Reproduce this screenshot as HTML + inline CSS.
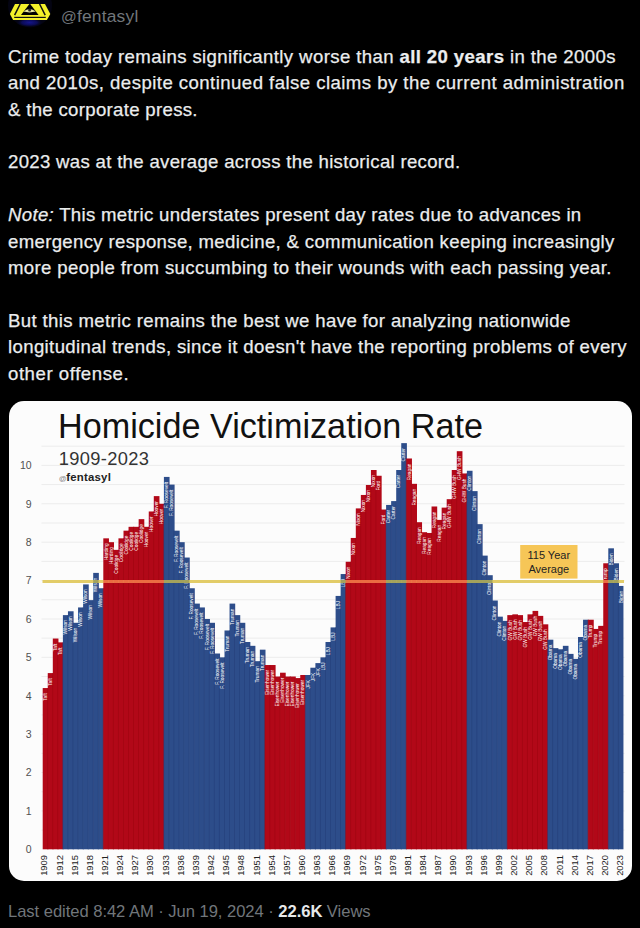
<!DOCTYPE html>
<html><head><meta charset="utf-8"><title>@fentasyl</title>
<style>
*{margin:0;padding:0;box-sizing:border-box}
html,body{width:640px;height:928px;background:#000;overflow:hidden}
body{position:relative;font-family:"Liberation Sans",Arial,sans-serif;color:#e7e9ea}
#av{position:absolute;left:0;top:0;width:60px;height:30px}
#user{position:absolute;left:61px;top:5.6px;font-size:17.4px;line-height:20px;color:#71767b;white-space:nowrap;letter-spacing:0.2px}
#txt{position:absolute;left:8px;top:43.9px;font-size:18.6px;line-height:26.4px;white-space:nowrap;-webkit-text-stroke:0.25px #e7e9ea;color:#eceeef}
#txt b{font-weight:700}
.ln{height:26.4px}
#chart{position:absolute;left:8.5px;top:401px;width:623px;height:479.6px;border-radius:15px;background:#fcfcfc;overflow:hidden}
#chart svg{position:absolute;left:0;top:0}
.yl{font-size:10.5px;fill:#505050;font-family:"Liberation Sans",Arial,sans-serif}
.xl{font-size:9.4px;fill:#222;font-family:"Liberation Sans",Arial,sans-serif}
.bl{font-size:4.8px;fill:#fff;font-family:"Liberation Sans",Arial,sans-serif}
.ab{font-size:11px;fill:#222;font-family:"Liberation Sans",Arial,sans-serif}
.t1{font-size:34.2px;fill:#111;font-family:"Liberation Sans",Arial,sans-serif}
.t2{font-size:18.3px;fill:#333;font-family:"Liberation Sans",Arial,sans-serif}
.t3{font-size:11.4px;font-weight:700;fill:#222;font-family:"Liberation Sans",Arial,sans-serif}
#foot{position:absolute;left:8px;top:900.5px;font-size:16.6px;line-height:22px;color:#71767b;white-space:nowrap;letter-spacing:-0.05px}
#foot b{color:#e7e9ea;font-weight:700}
</style></head><body>
<svg id="av" viewBox="0 0 60 30" width="60" height="30">
<defs><radialGradient id="ag" gradientUnits="userSpaceOnUse" cx="29.5" cy="22.5" r="13" gradientTransform="translate(29.5 22.5) scale(1 0.35) translate(-29.5 -22.5)"><stop offset="0" stop-color="#15158a"/><stop offset="0.6" stop-color="#0b0b55"/><stop offset="1" stop-color="#06061e" stop-opacity="0"/></radialGradient></defs>
<circle cx="30" cy="5.5" r="22" fill="#040412"/>
<rect x="8" y="14" width="44" height="16" fill="url(#ag)"/>
<polygon points="15,4 45,4 50.3,13.9 46.9,19.9 13.1,19.9 9.9,13.9" fill="#f4f02a"/>
<polygon points="29.8,3.6 38.6,15 21,15" fill="#000"/>
<path d="M20.2,4 L14.6,15.2 M39.6,4 L45.2,15.2" stroke="#111" stroke-width="1.5" fill="none"/>
<path d="M14.2,17.4 H45.8" stroke="#111" stroke-width="1.2"/>
<path d="M23.4,11.6 Q29.6,6.2 35.8,11.6 Q29.6,13.2 23.4,11.6Z" fill="#e8e6a0"/>
<circle cx="29.6" cy="10" r="1.5" fill="#222"/>
</svg>
<div id="user"><span style="font-size:15.5px">@</span>fentasyl</div>
<div id="txt">
<div class="ln" id="l0" style="letter-spacing:0.386px">Crime today remains significantly worse than <b>all 20 years</b> in the 2000s</div>
<div class="ln" id="l1" style="letter-spacing:0.446px">and 2010s, despite continued false claims by the current administration</div>
<div class="ln" id="l2" style="letter-spacing:0.314px">&amp; the corporate press.</div>
<div class="ln">&nbsp;</div>
<div class="ln" id="l4" style="letter-spacing:0.308px">2023 was at the average across the historical record.</div>
<div class="ln">&nbsp;</div>
<div class="ln" id="l6" style="letter-spacing:0.317px"><i>Note:</i> This metric understates present day rates due to advances in</div>
<div class="ln" id="l7" style="letter-spacing:0.329px">emergency response, medicine, &amp; communication keeping increasingly</div>
<div class="ln" id="l8" style="letter-spacing:0.358px">more people from succumbing to their wounds with each passing year.</div>
<div class="ln">&nbsp;</div>
<div class="ln" id="l10" style="letter-spacing:0.356px">But this metric remains the best we have for analyzing nationwide</div>
<div class="ln" id="l11" style="letter-spacing:0.367px">longitudinal trends, since it doesn't have the reporting problems of every</div>
<div class="ln" id="l12" style="letter-spacing:0.554px">other offense.</div>
</div>
<div id="chart"><svg width="623" height="479.6" viewBox="0 0 623 479.6">
<line x1="32.50" x2="615.50" y1="429.10" y2="429.10" stroke="#ececec" stroke-width="1"/>
<line x1="32.50" x2="615.50" y1="409.91" y2="409.91" stroke="#ececec" stroke-width="1"/>
<line x1="32.50" x2="615.50" y1="390.71" y2="390.71" stroke="#ececec" stroke-width="1"/>
<line x1="32.50" x2="615.50" y1="371.52" y2="371.52" stroke="#ececec" stroke-width="1"/>
<line x1="32.50" x2="615.50" y1="352.32" y2="352.32" stroke="#ececec" stroke-width="1"/>
<line x1="32.50" x2="615.50" y1="333.13" y2="333.13" stroke="#ececec" stroke-width="1"/>
<line x1="32.50" x2="615.50" y1="313.93" y2="313.93" stroke="#ececec" stroke-width="1"/>
<line x1="32.50" x2="615.50" y1="294.74" y2="294.74" stroke="#ececec" stroke-width="1"/>
<line x1="32.50" x2="615.50" y1="275.54" y2="275.54" stroke="#ececec" stroke-width="1"/>
<line x1="32.50" x2="615.50" y1="256.35" y2="256.35" stroke="#ececec" stroke-width="1"/>
<line x1="32.50" x2="615.50" y1="237.15" y2="237.15" stroke="#ececec" stroke-width="1"/>
<line x1="32.50" x2="615.50" y1="217.96" y2="217.96" stroke="#ececec" stroke-width="1"/>
<line x1="32.50" x2="615.50" y1="198.76" y2="198.76" stroke="#ececec" stroke-width="1"/>
<line x1="32.50" x2="615.50" y1="179.57" y2="179.57" stroke="#ececec" stroke-width="1"/>
<line x1="32.50" x2="615.50" y1="160.38" y2="160.38" stroke="#ececec" stroke-width="1"/>
<line x1="32.50" x2="615.50" y1="141.18" y2="141.18" stroke="#ececec" stroke-width="1"/>
<line x1="32.50" x2="615.50" y1="121.98" y2="121.98" stroke="#ececec" stroke-width="1"/>
<line x1="32.50" x2="615.50" y1="102.79" y2="102.79" stroke="#ececec" stroke-width="1"/>
<line x1="32.50" x2="615.50" y1="83.59" y2="83.59" stroke="#ececec" stroke-width="1"/>
<line x1="32.50" x2="615.50" y1="64.40" y2="64.40" stroke="#ececec" stroke-width="1"/>
<line x1="32.50" x2="615.50" y1="45.20" y2="45.20" stroke="#ececec" stroke-width="1"/>
<text x="22.70" y="452.10" text-anchor="end" class="yl">0</text>
<text x="22.70" y="413.71" text-anchor="end" class="yl">1</text>
<text x="22.70" y="375.32" text-anchor="end" class="yl">2</text>
<text x="22.70" y="336.93" text-anchor="end" class="yl">3</text>
<text x="22.70" y="298.54" text-anchor="end" class="yl">4</text>
<text x="22.70" y="260.15" text-anchor="end" class="yl">5</text>
<text x="22.70" y="221.76" text-anchor="end" class="yl">6</text>
<text x="22.70" y="183.37" text-anchor="end" class="yl">7</text>
<text x="22.70" y="144.98" text-anchor="end" class="yl">8</text>
<text x="22.70" y="106.59" text-anchor="end" class="yl">9</text>
<text x="22.70" y="68.20" text-anchor="end" class="yl">10</text>
<rect x="33.70" y="287.06" width="5.65" height="161.24" fill="#b20818"/>
<rect x="38.75" y="272.09" width="5.65" height="176.21" fill="#b20818"/>
<rect x="43.80" y="237.54" width="5.65" height="210.76" fill="#b20818"/>
<rect x="48.85" y="241.38" width="5.65" height="206.92" fill="#b20818"/>
<rect x="53.90" y="214.12" width="5.65" height="234.18" fill="#2d4d8a"/>
<rect x="58.95" y="210.28" width="5.65" height="238.02" fill="#2d4d8a"/>
<rect x="64.00" y="221.80" width="5.65" height="226.50" fill="#2d4d8a"/>
<rect x="69.05" y="206.44" width="5.65" height="241.86" fill="#2d4d8a"/>
<rect x="74.10" y="183.41" width="5.65" height="264.89" fill="#2d4d8a"/>
<rect x="79.15" y="199.15" width="5.65" height="249.15" fill="#2d4d8a"/>
<rect x="84.20" y="171.89" width="5.65" height="276.41" fill="#2d4d8a"/>
<rect x="89.25" y="187.25" width="5.65" height="261.05" fill="#2d4d8a"/>
<rect x="94.30" y="137.34" width="5.65" height="310.96" fill="#b20818"/>
<rect x="99.35" y="141.18" width="5.65" height="307.12" fill="#b20818"/>
<rect x="104.40" y="148.86" width="5.65" height="299.44" fill="#b20818"/>
<rect x="109.45" y="137.34" width="5.65" height="310.96" fill="#b20818"/>
<rect x="114.50" y="129.66" width="5.65" height="318.64" fill="#b20818"/>
<rect x="119.55" y="125.82" width="5.65" height="322.48" fill="#b20818"/>
<rect x="124.60" y="125.82" width="5.65" height="322.48" fill="#b20818"/>
<rect x="129.65" y="118.15" width="5.65" height="330.15" fill="#b20818"/>
<rect x="134.70" y="125.82" width="5.65" height="322.48" fill="#b20818"/>
<rect x="139.75" y="110.47" width="5.65" height="337.83" fill="#b20818"/>
<rect x="144.80" y="95.11" width="5.65" height="353.19" fill="#b20818"/>
<rect x="149.85" y="102.79" width="5.65" height="345.51" fill="#b20818"/>
<rect x="154.90" y="75.92" width="5.65" height="372.38" fill="#2d4d8a"/>
<rect x="159.95" y="83.59" width="5.65" height="364.70" fill="#2d4d8a"/>
<rect x="165.00" y="129.66" width="5.65" height="318.64" fill="#2d4d8a"/>
<rect x="170.05" y="141.18" width="5.65" height="307.12" fill="#2d4d8a"/>
<rect x="175.10" y="156.54" width="5.65" height="291.76" fill="#2d4d8a"/>
<rect x="180.15" y="187.25" width="5.65" height="261.05" fill="#2d4d8a"/>
<rect x="185.20" y="202.60" width="5.65" height="245.70" fill="#2d4d8a"/>
<rect x="190.25" y="206.44" width="5.65" height="241.86" fill="#2d4d8a"/>
<rect x="195.30" y="217.96" width="5.65" height="230.34" fill="#2d4d8a"/>
<rect x="200.35" y="221.80" width="5.65" height="226.50" fill="#2d4d8a"/>
<rect x="205.40" y="252.51" width="5.65" height="195.79" fill="#2d4d8a"/>
<rect x="210.45" y="256.35" width="5.65" height="191.95" fill="#2d4d8a"/>
<rect x="215.50" y="229.48" width="5.65" height="218.82" fill="#2d4d8a"/>
<rect x="220.55" y="202.60" width="5.65" height="245.70" fill="#2d4d8a"/>
<rect x="225.60" y="214.12" width="5.65" height="234.18" fill="#2d4d8a"/>
<rect x="230.65" y="221.80" width="5.65" height="226.50" fill="#2d4d8a"/>
<rect x="235.70" y="240.99" width="5.65" height="207.31" fill="#2d4d8a"/>
<rect x="240.75" y="244.83" width="5.65" height="203.47" fill="#2d4d8a"/>
<rect x="245.80" y="260.19" width="5.65" height="188.11" fill="#2d4d8a"/>
<rect x="250.85" y="248.67" width="5.65" height="199.63" fill="#2d4d8a"/>
<rect x="255.90" y="264.03" width="5.65" height="184.27" fill="#b20818"/>
<rect x="260.95" y="264.03" width="5.65" height="184.27" fill="#b20818"/>
<rect x="266.00" y="275.54" width="5.65" height="172.75" fill="#b20818"/>
<rect x="271.05" y="271.71" width="5.65" height="176.59" fill="#b20818"/>
<rect x="276.10" y="275.54" width="5.65" height="172.75" fill="#b20818"/>
<rect x="281.15" y="275.54" width="5.65" height="172.75" fill="#b20818"/>
<rect x="286.20" y="277.08" width="5.65" height="171.22" fill="#b20818"/>
<rect x="291.25" y="274.01" width="5.65" height="174.29" fill="#b20818"/>
<rect x="296.30" y="274.01" width="5.65" height="174.29" fill="#2d4d8a"/>
<rect x="301.35" y="266.72" width="5.65" height="181.58" fill="#2d4d8a"/>
<rect x="306.40" y="262.11" width="5.65" height="186.19" fill="#2d4d8a"/>
<rect x="311.45" y="256.35" width="5.65" height="191.95" fill="#2d4d8a"/>
<rect x="316.50" y="240.99" width="5.65" height="207.31" fill="#2d4d8a"/>
<rect x="321.55" y="226.41" width="5.65" height="221.89" fill="#2d4d8a"/>
<rect x="326.60" y="194.93" width="5.65" height="253.37" fill="#2d4d8a"/>
<rect x="331.65" y="173.04" width="5.65" height="275.26" fill="#2d4d8a"/>
<rect x="336.70" y="160.76" width="5.65" height="287.54" fill="#b20818"/>
<rect x="341.75" y="136.96" width="5.65" height="311.34" fill="#b20818"/>
<rect x="346.80" y="107.40" width="5.65" height="340.90" fill="#b20818"/>
<rect x="351.85" y="93.96" width="5.65" height="354.34" fill="#b20818"/>
<rect x="356.90" y="83.98" width="5.65" height="364.32" fill="#b20818"/>
<rect x="361.95" y="69.01" width="5.65" height="379.29" fill="#b20818"/>
<rect x="367.00" y="74.77" width="5.65" height="373.53" fill="#b20818"/>
<rect x="372.05" y="108.55" width="5.65" height="339.75" fill="#b20818"/>
<rect x="377.10" y="103.94" width="5.65" height="344.36" fill="#2d4d8a"/>
<rect x="382.15" y="100.10" width="5.65" height="348.20" fill="#2d4d8a"/>
<rect x="387.20" y="69.01" width="5.65" height="379.29" fill="#2d4d8a"/>
<rect x="392.25" y="42.13" width="5.65" height="406.17" fill="#2d4d8a"/>
<rect x="397.30" y="57.49" width="5.65" height="390.81" fill="#b20818"/>
<rect x="402.35" y="82.83" width="5.65" height="365.47" fill="#b20818"/>
<rect x="407.40" y="121.22" width="5.65" height="327.08" fill="#b20818"/>
<rect x="412.45" y="131.20" width="5.65" height="317.10" fill="#b20818"/>
<rect x="417.50" y="131.97" width="5.65" height="316.33" fill="#b20818"/>
<rect x="422.55" y="105.48" width="5.65" height="342.82" fill="#b20818"/>
<rect x="427.60" y="118.91" width="5.65" height="329.39" fill="#b20818"/>
<rect x="432.65" y="106.63" width="5.65" height="341.67" fill="#b20818"/>
<rect x="437.70" y="98.18" width="5.65" height="350.12" fill="#b20818"/>
<rect x="442.75" y="69.01" width="5.65" height="379.29" fill="#b20818"/>
<rect x="447.80" y="50.20" width="5.65" height="398.10" fill="#b20818"/>
<rect x="452.85" y="72.46" width="5.65" height="375.84" fill="#b20818"/>
<rect x="457.90" y="69.77" width="5.65" height="378.53" fill="#2d4d8a"/>
<rect x="462.95" y="90.12" width="5.65" height="358.18" fill="#2d4d8a"/>
<rect x="468.00" y="123.14" width="5.65" height="325.16" fill="#2d4d8a"/>
<rect x="473.05" y="154.62" width="5.65" height="293.68" fill="#2d4d8a"/>
<rect x="478.10" y="174.20" width="5.65" height="274.10" fill="#2d4d8a"/>
<rect x="483.15" y="199.53" width="5.65" height="248.77" fill="#2d4d8a"/>
<rect x="488.20" y="215.66" width="5.65" height="232.64" fill="#2d4d8a"/>
<rect x="493.25" y="219.88" width="5.65" height="228.42" fill="#2d4d8a"/>
<rect x="498.30" y="214.12" width="5.65" height="234.18" fill="#b20818"/>
<rect x="503.35" y="213.35" width="5.65" height="234.95" fill="#b20818"/>
<rect x="508.40" y="214.12" width="5.65" height="234.18" fill="#b20818"/>
<rect x="513.45" y="221.03" width="5.65" height="227.27" fill="#b20818"/>
<rect x="518.50" y="213.35" width="5.65" height="234.95" fill="#b20818"/>
<rect x="523.55" y="209.90" width="5.65" height="238.40" fill="#b20818"/>
<rect x="528.60" y="214.89" width="5.65" height="233.41" fill="#b20818"/>
<rect x="533.65" y="223.33" width="5.65" height="224.97" fill="#b20818"/>
<rect x="538.70" y="238.69" width="5.65" height="209.61" fill="#2d4d8a"/>
<rect x="543.75" y="247.14" width="5.65" height="201.16" fill="#2d4d8a"/>
<rect x="548.80" y="248.29" width="5.65" height="200.01" fill="#2d4d8a"/>
<rect x="553.85" y="244.83" width="5.65" height="203.47" fill="#2d4d8a"/>
<rect x="558.90" y="252.89" width="5.65" height="195.41" fill="#2d4d8a"/>
<rect x="563.95" y="257.89" width="5.65" height="190.41" fill="#2d4d8a"/>
<rect x="569.00" y="236.00" width="5.65" height="212.30" fill="#2d4d8a"/>
<rect x="574.05" y="218.73" width="5.65" height="229.57" fill="#2d4d8a"/>
<rect x="579.10" y="218.73" width="5.65" height="229.57" fill="#b20818"/>
<rect x="584.15" y="227.94" width="5.65" height="220.36" fill="#b20818"/>
<rect x="589.20" y="224.87" width="5.65" height="223.43" fill="#b20818"/>
<rect x="594.25" y="162.29" width="5.65" height="286.01" fill="#b20818"/>
<rect x="599.30" y="147.32" width="5.65" height="300.98" fill="#2d4d8a"/>
<rect x="604.35" y="162.29" width="5.65" height="286.01" fill="#2d4d8a"/>
<rect x="609.40" y="184.94" width="5.05" height="263.36" fill="#2d4d8a"/>
<rect x="38.25" y="287.06" width="0.8" height="161.24" fill="#98060f" opacity="0.55"/>
<rect x="43.30" y="272.09" width="0.8" height="176.21" fill="#98060f" opacity="0.55"/>
<rect x="48.35" y="241.38" width="0.8" height="206.92" fill="#98060f" opacity="0.55"/>
<rect x="53.40" y="241.38" width="0.8" height="206.92" fill="#223d74" opacity="0.55"/>
<rect x="58.45" y="214.12" width="0.8" height="234.18" fill="#223d74" opacity="0.55"/>
<rect x="63.50" y="221.80" width="0.8" height="226.50" fill="#223d74" opacity="0.55"/>
<rect x="68.55" y="221.80" width="0.8" height="226.50" fill="#223d74" opacity="0.55"/>
<rect x="73.60" y="206.44" width="0.8" height="241.86" fill="#223d74" opacity="0.55"/>
<rect x="78.65" y="199.15" width="0.8" height="249.15" fill="#223d74" opacity="0.55"/>
<rect x="83.70" y="199.15" width="0.8" height="249.15" fill="#223d74" opacity="0.55"/>
<rect x="88.75" y="187.25" width="0.8" height="261.05" fill="#223d74" opacity="0.55"/>
<rect x="93.80" y="187.25" width="0.8" height="261.05" fill="#98060f" opacity="0.55"/>
<rect x="98.85" y="141.18" width="0.8" height="307.12" fill="#98060f" opacity="0.55"/>
<rect x="103.90" y="148.86" width="0.8" height="299.44" fill="#98060f" opacity="0.55"/>
<rect x="108.95" y="148.86" width="0.8" height="299.44" fill="#98060f" opacity="0.55"/>
<rect x="114.00" y="137.34" width="0.8" height="310.96" fill="#98060f" opacity="0.55"/>
<rect x="119.05" y="129.66" width="0.8" height="318.64" fill="#98060f" opacity="0.55"/>
<rect x="124.10" y="125.82" width="0.8" height="322.48" fill="#98060f" opacity="0.55"/>
<rect x="129.15" y="125.82" width="0.8" height="322.48" fill="#98060f" opacity="0.55"/>
<rect x="134.20" y="125.82" width="0.8" height="322.48" fill="#98060f" opacity="0.55"/>
<rect x="139.25" y="125.82" width="0.8" height="322.48" fill="#98060f" opacity="0.55"/>
<rect x="144.30" y="110.47" width="0.8" height="337.83" fill="#98060f" opacity="0.55"/>
<rect x="149.35" y="102.79" width="0.8" height="345.51" fill="#98060f" opacity="0.55"/>
<rect x="154.40" y="102.79" width="0.8" height="345.51" fill="#223d74" opacity="0.55"/>
<rect x="159.45" y="83.59" width="0.8" height="364.70" fill="#223d74" opacity="0.55"/>
<rect x="164.50" y="129.66" width="0.8" height="318.64" fill="#223d74" opacity="0.55"/>
<rect x="169.55" y="141.18" width="0.8" height="307.12" fill="#223d74" opacity="0.55"/>
<rect x="174.60" y="156.54" width="0.8" height="291.76" fill="#223d74" opacity="0.55"/>
<rect x="179.65" y="187.25" width="0.8" height="261.05" fill="#223d74" opacity="0.55"/>
<rect x="184.70" y="202.60" width="0.8" height="245.70" fill="#223d74" opacity="0.55"/>
<rect x="189.75" y="206.44" width="0.8" height="241.86" fill="#223d74" opacity="0.55"/>
<rect x="194.80" y="217.96" width="0.8" height="230.34" fill="#223d74" opacity="0.55"/>
<rect x="199.85" y="221.80" width="0.8" height="226.50" fill="#223d74" opacity="0.55"/>
<rect x="204.90" y="252.51" width="0.8" height="195.79" fill="#223d74" opacity="0.55"/>
<rect x="209.95" y="256.35" width="0.8" height="191.95" fill="#223d74" opacity="0.55"/>
<rect x="215.00" y="256.35" width="0.8" height="191.95" fill="#223d74" opacity="0.55"/>
<rect x="220.05" y="229.48" width="0.8" height="218.82" fill="#223d74" opacity="0.55"/>
<rect x="225.10" y="214.12" width="0.8" height="234.18" fill="#223d74" opacity="0.55"/>
<rect x="230.15" y="221.80" width="0.8" height="226.50" fill="#223d74" opacity="0.55"/>
<rect x="235.20" y="240.99" width="0.8" height="207.31" fill="#223d74" opacity="0.55"/>
<rect x="240.25" y="244.83" width="0.8" height="203.47" fill="#223d74" opacity="0.55"/>
<rect x="245.30" y="260.19" width="0.8" height="188.11" fill="#223d74" opacity="0.55"/>
<rect x="250.35" y="260.19" width="0.8" height="188.11" fill="#223d74" opacity="0.55"/>
<rect x="255.40" y="264.03" width="0.8" height="184.27" fill="#98060f" opacity="0.55"/>
<rect x="260.45" y="264.03" width="0.8" height="184.27" fill="#98060f" opacity="0.55"/>
<rect x="265.50" y="275.54" width="0.8" height="172.75" fill="#98060f" opacity="0.55"/>
<rect x="270.55" y="275.54" width="0.8" height="172.75" fill="#98060f" opacity="0.55"/>
<rect x="275.60" y="275.54" width="0.8" height="172.75" fill="#98060f" opacity="0.55"/>
<rect x="280.65" y="275.54" width="0.8" height="172.75" fill="#98060f" opacity="0.55"/>
<rect x="285.70" y="277.08" width="0.8" height="171.22" fill="#98060f" opacity="0.55"/>
<rect x="290.75" y="277.08" width="0.8" height="171.22" fill="#98060f" opacity="0.55"/>
<rect x="295.80" y="274.01" width="0.8" height="174.29" fill="#223d74" opacity="0.55"/>
<rect x="300.85" y="274.01" width="0.8" height="174.29" fill="#223d74" opacity="0.55"/>
<rect x="305.90" y="266.72" width="0.8" height="181.58" fill="#223d74" opacity="0.55"/>
<rect x="310.95" y="262.11" width="0.8" height="186.19" fill="#223d74" opacity="0.55"/>
<rect x="316.00" y="256.35" width="0.8" height="191.95" fill="#223d74" opacity="0.55"/>
<rect x="321.05" y="240.99" width="0.8" height="207.31" fill="#223d74" opacity="0.55"/>
<rect x="326.10" y="226.41" width="0.8" height="221.89" fill="#223d74" opacity="0.55"/>
<rect x="331.15" y="194.93" width="0.8" height="253.37" fill="#223d74" opacity="0.55"/>
<rect x="336.20" y="173.04" width="0.8" height="275.26" fill="#98060f" opacity="0.55"/>
<rect x="341.25" y="160.76" width="0.8" height="287.54" fill="#98060f" opacity="0.55"/>
<rect x="346.30" y="136.96" width="0.8" height="311.34" fill="#98060f" opacity="0.55"/>
<rect x="351.35" y="107.40" width="0.8" height="340.90" fill="#98060f" opacity="0.55"/>
<rect x="356.40" y="93.96" width="0.8" height="354.34" fill="#98060f" opacity="0.55"/>
<rect x="361.45" y="83.98" width="0.8" height="364.32" fill="#98060f" opacity="0.55"/>
<rect x="366.50" y="74.77" width="0.8" height="373.53" fill="#98060f" opacity="0.55"/>
<rect x="371.55" y="108.55" width="0.8" height="339.75" fill="#98060f" opacity="0.55"/>
<rect x="376.60" y="108.55" width="0.8" height="339.75" fill="#223d74" opacity="0.55"/>
<rect x="381.65" y="103.94" width="0.8" height="344.36" fill="#223d74" opacity="0.55"/>
<rect x="386.70" y="100.10" width="0.8" height="348.20" fill="#223d74" opacity="0.55"/>
<rect x="391.75" y="69.01" width="0.8" height="379.29" fill="#223d74" opacity="0.55"/>
<rect x="396.80" y="57.49" width="0.8" height="390.81" fill="#98060f" opacity="0.55"/>
<rect x="401.85" y="82.83" width="0.8" height="365.47" fill="#98060f" opacity="0.55"/>
<rect x="406.90" y="121.22" width="0.8" height="327.08" fill="#98060f" opacity="0.55"/>
<rect x="411.95" y="131.20" width="0.8" height="317.10" fill="#98060f" opacity="0.55"/>
<rect x="417.00" y="131.97" width="0.8" height="316.33" fill="#98060f" opacity="0.55"/>
<rect x="422.05" y="131.97" width="0.8" height="316.33" fill="#98060f" opacity="0.55"/>
<rect x="427.10" y="118.91" width="0.8" height="329.39" fill="#98060f" opacity="0.55"/>
<rect x="432.15" y="118.91" width="0.8" height="329.39" fill="#98060f" opacity="0.55"/>
<rect x="437.20" y="106.63" width="0.8" height="341.67" fill="#98060f" opacity="0.55"/>
<rect x="442.25" y="98.18" width="0.8" height="350.12" fill="#98060f" opacity="0.55"/>
<rect x="447.30" y="69.01" width="0.8" height="379.29" fill="#98060f" opacity="0.55"/>
<rect x="452.35" y="72.46" width="0.8" height="375.84" fill="#98060f" opacity="0.55"/>
<rect x="457.40" y="72.46" width="0.8" height="375.84" fill="#223d74" opacity="0.55"/>
<rect x="462.45" y="90.12" width="0.8" height="358.18" fill="#223d74" opacity="0.55"/>
<rect x="467.50" y="123.14" width="0.8" height="325.16" fill="#223d74" opacity="0.55"/>
<rect x="472.55" y="154.62" width="0.8" height="293.68" fill="#223d74" opacity="0.55"/>
<rect x="477.60" y="174.20" width="0.8" height="274.10" fill="#223d74" opacity="0.55"/>
<rect x="482.65" y="199.53" width="0.8" height="248.77" fill="#223d74" opacity="0.55"/>
<rect x="487.70" y="215.66" width="0.8" height="232.64" fill="#223d74" opacity="0.55"/>
<rect x="492.75" y="219.88" width="0.8" height="228.42" fill="#223d74" opacity="0.55"/>
<rect x="497.80" y="219.88" width="0.8" height="228.42" fill="#98060f" opacity="0.55"/>
<rect x="502.85" y="214.12" width="0.8" height="234.18" fill="#98060f" opacity="0.55"/>
<rect x="507.90" y="214.12" width="0.8" height="234.18" fill="#98060f" opacity="0.55"/>
<rect x="512.95" y="221.03" width="0.8" height="227.27" fill="#98060f" opacity="0.55"/>
<rect x="518.00" y="221.03" width="0.8" height="227.27" fill="#98060f" opacity="0.55"/>
<rect x="523.05" y="213.35" width="0.8" height="234.95" fill="#98060f" opacity="0.55"/>
<rect x="528.10" y="214.89" width="0.8" height="233.41" fill="#98060f" opacity="0.55"/>
<rect x="533.15" y="223.33" width="0.8" height="224.97" fill="#98060f" opacity="0.55"/>
<rect x="538.20" y="238.69" width="0.8" height="209.61" fill="#223d74" opacity="0.55"/>
<rect x="543.25" y="247.14" width="0.8" height="201.16" fill="#223d74" opacity="0.55"/>
<rect x="548.30" y="248.29" width="0.8" height="200.01" fill="#223d74" opacity="0.55"/>
<rect x="553.35" y="248.29" width="0.8" height="200.01" fill="#223d74" opacity="0.55"/>
<rect x="558.40" y="252.89" width="0.8" height="195.41" fill="#223d74" opacity="0.55"/>
<rect x="563.45" y="257.89" width="0.8" height="190.41" fill="#223d74" opacity="0.55"/>
<rect x="568.50" y="257.89" width="0.8" height="190.41" fill="#223d74" opacity="0.55"/>
<rect x="573.55" y="236.00" width="0.8" height="212.30" fill="#223d74" opacity="0.55"/>
<rect x="578.60" y="218.73" width="0.8" height="229.57" fill="#98060f" opacity="0.55"/>
<rect x="583.65" y="227.94" width="0.8" height="220.36" fill="#98060f" opacity="0.55"/>
<rect x="588.70" y="227.94" width="0.8" height="220.36" fill="#98060f" opacity="0.55"/>
<rect x="593.75" y="224.87" width="0.8" height="223.43" fill="#98060f" opacity="0.55"/>
<rect x="598.80" y="162.29" width="0.8" height="286.01" fill="#223d74" opacity="0.55"/>
<rect x="603.85" y="162.29" width="0.8" height="286.01" fill="#223d74" opacity="0.55"/>
<rect x="608.90" y="184.94" width="0.8" height="263.36" fill="#223d74" opacity="0.55"/>
<text transform="translate(37.93,292.06) rotate(-90)" text-anchor="end" class="bl">Taft</text>
<text transform="translate(42.98,277.09) rotate(-90)" text-anchor="end" class="bl">Taft</text>
<text transform="translate(48.03,242.54) rotate(-90)" text-anchor="end" class="bl">Taft</text>
<text transform="translate(53.08,246.38) rotate(-90)" text-anchor="end" class="bl">Taft</text>
<text transform="translate(58.13,219.12) rotate(-90)" text-anchor="end" class="bl">Wilson</text>
<text transform="translate(63.18,215.28) rotate(-90)" text-anchor="end" class="bl">Wilson</text>
<text transform="translate(68.23,226.80) rotate(-90)" text-anchor="end" class="bl">Wilson</text>
<text transform="translate(73.28,211.44) rotate(-90)" text-anchor="end" class="bl">Wilson</text>
<text transform="translate(78.33,188.41) rotate(-90)" text-anchor="end" class="bl">Wilson</text>
<text transform="translate(83.38,204.15) rotate(-90)" text-anchor="end" class="bl">Wilson</text>
<text transform="translate(88.43,176.89) rotate(-90)" text-anchor="end" class="bl">Wilson</text>
<text transform="translate(93.48,192.25) rotate(-90)" text-anchor="end" class="bl">Wilson</text>
<text transform="translate(98.53,142.34) rotate(-90)" text-anchor="end" class="bl">Harding</text>
<text transform="translate(103.58,146.18) rotate(-90)" text-anchor="end" class="bl">Harding</text>
<text transform="translate(108.63,153.86) rotate(-90)" text-anchor="end" class="bl">Coolidge</text>
<text transform="translate(113.68,142.34) rotate(-90)" text-anchor="end" class="bl">Coolidge</text>
<text transform="translate(118.73,134.66) rotate(-90)" text-anchor="end" class="bl">Coolidge</text>
<text transform="translate(123.78,130.82) rotate(-90)" text-anchor="end" class="bl">Coolidge</text>
<text transform="translate(128.82,130.82) rotate(-90)" text-anchor="end" class="bl">Coolidge</text>
<text transform="translate(133.88,123.15) rotate(-90)" text-anchor="end" class="bl">Coolidge</text>
<text transform="translate(138.92,130.82) rotate(-90)" text-anchor="end" class="bl">Hoover</text>
<text transform="translate(143.97,115.47) rotate(-90)" text-anchor="end" class="bl">Hoover</text>
<text transform="translate(149.03,100.11) rotate(-90)" text-anchor="end" class="bl">Hoover</text>
<text transform="translate(154.07,107.79) rotate(-90)" text-anchor="end" class="bl">Hoover</text>
<text transform="translate(159.12,80.92) rotate(-90)" text-anchor="end" class="bl">F. Roosevelt</text>
<text transform="translate(164.17,88.59) rotate(-90)" text-anchor="end" class="bl">F. Roosevelt</text>
<text transform="translate(169.22,134.66) rotate(-90)" text-anchor="end" class="bl">F. Roosevelt</text>
<text transform="translate(174.28,146.18) rotate(-90)" text-anchor="end" class="bl">F. Roosevelt</text>
<text transform="translate(179.33,161.54) rotate(-90)" text-anchor="end" class="bl">F. Roosevelt</text>
<text transform="translate(184.37,192.25) rotate(-90)" text-anchor="end" class="bl">F. Roosevelt</text>
<text transform="translate(189.42,207.60) rotate(-90)" text-anchor="end" class="bl">F. Roosevelt</text>
<text transform="translate(194.47,211.44) rotate(-90)" text-anchor="end" class="bl">F. Roosevelt</text>
<text transform="translate(199.53,222.96) rotate(-90)" text-anchor="end" class="bl">F. Roosevelt</text>
<text transform="translate(204.58,226.80) rotate(-90)" text-anchor="end" class="bl">F. Roosevelt</text>
<text transform="translate(209.62,257.51) rotate(-90)" text-anchor="end" class="bl">F. Roosevelt</text>
<text transform="translate(214.67,261.35) rotate(-90)" text-anchor="end" class="bl">F. Roosevelt</text>
<text transform="translate(219.72,234.48) rotate(-90)" text-anchor="end" class="bl">Truman</text>
<text transform="translate(224.78,207.60) rotate(-90)" text-anchor="end" class="bl">Truman</text>
<text transform="translate(229.83,219.12) rotate(-90)" text-anchor="end" class="bl">Truman</text>
<text transform="translate(234.87,226.80) rotate(-90)" text-anchor="end" class="bl">Truman</text>
<text transform="translate(239.92,245.99) rotate(-90)" text-anchor="end" class="bl">Truman</text>
<text transform="translate(244.97,249.83) rotate(-90)" text-anchor="end" class="bl">Truman</text>
<text transform="translate(250.02,265.19) rotate(-90)" text-anchor="end" class="bl">Truman</text>
<text transform="translate(255.07,253.67) rotate(-90)" text-anchor="end" class="bl">Truman</text>
<text transform="translate(260.12,269.03) rotate(-90)" text-anchor="end" class="bl">Eisenhower</text>
<text transform="translate(265.17,269.03) rotate(-90)" text-anchor="end" class="bl">Eisenhower</text>
<text transform="translate(270.22,280.54) rotate(-90)" text-anchor="end" class="bl">Eisenhower</text>
<text transform="translate(275.27,276.71) rotate(-90)" text-anchor="end" class="bl">Eisenhower</text>
<text transform="translate(280.32,280.54) rotate(-90)" text-anchor="end" class="bl">Eisenhower</text>
<text transform="translate(285.37,280.54) rotate(-90)" text-anchor="end" class="bl">Eisenhower</text>
<text transform="translate(290.42,282.08) rotate(-90)" text-anchor="end" class="bl">Eisenhower</text>
<text transform="translate(295.47,279.01) rotate(-90)" text-anchor="end" class="bl">Eisenhower</text>
<text transform="translate(300.52,279.01) rotate(-90)" text-anchor="end" class="bl">JFK</text>
<text transform="translate(305.57,271.72) rotate(-90)" text-anchor="end" class="bl">JFK</text>
<text transform="translate(310.62,267.11) rotate(-90)" text-anchor="end" class="bl">JFK</text>
<text transform="translate(315.67,261.35) rotate(-90)" text-anchor="end" class="bl">LBJ</text>
<text transform="translate(320.72,245.99) rotate(-90)" text-anchor="end" class="bl">LBJ</text>
<text transform="translate(325.77,231.41) rotate(-90)" text-anchor="end" class="bl">LBJ</text>
<text transform="translate(330.82,199.93) rotate(-90)" text-anchor="end" class="bl">LBJ</text>
<text transform="translate(335.87,178.04) rotate(-90)" text-anchor="end" class="bl">LBJ</text>
<text transform="translate(340.92,165.76) rotate(-90)" text-anchor="end" class="bl">Nixon</text>
<text transform="translate(345.97,141.96) rotate(-90)" text-anchor="end" class="bl">Nixon</text>
<text transform="translate(351.02,112.40) rotate(-90)" text-anchor="end" class="bl">Nixon</text>
<text transform="translate(356.07,98.96) rotate(-90)" text-anchor="end" class="bl">Nixon</text>
<text transform="translate(361.12,88.98) rotate(-90)" text-anchor="end" class="bl">Nixon</text>
<text transform="translate(366.17,74.01) rotate(-90)" text-anchor="end" class="bl">Nixon</text>
<text transform="translate(371.22,79.77) rotate(-90)" text-anchor="end" class="bl">Ford</text>
<text transform="translate(376.27,113.55) rotate(-90)" text-anchor="end" class="bl">Ford</text>
<text transform="translate(381.32,108.94) rotate(-90)" text-anchor="end" class="bl">Carter</text>
<text transform="translate(386.37,105.10) rotate(-90)" text-anchor="end" class="bl">Carter</text>
<text transform="translate(391.42,74.01) rotate(-90)" text-anchor="end" class="bl">Carter</text>
<text transform="translate(396.47,47.13) rotate(-90)" text-anchor="end" class="bl">Carter</text>
<text transform="translate(401.52,62.49) rotate(-90)" text-anchor="end" class="bl">Reagan</text>
<text transform="translate(406.57,87.83) rotate(-90)" text-anchor="end" class="bl">Reagan</text>
<text transform="translate(411.62,126.22) rotate(-90)" text-anchor="end" class="bl">Reagan</text>
<text transform="translate(416.67,136.20) rotate(-90)" text-anchor="end" class="bl">Reagan</text>
<text transform="translate(421.72,136.97) rotate(-90)" text-anchor="end" class="bl">Reagan</text>
<text transform="translate(426.77,110.48) rotate(-90)" text-anchor="end" class="bl">Reagan</text>
<text transform="translate(431.82,123.91) rotate(-90)" text-anchor="end" class="bl">Reagan</text>
<text transform="translate(436.87,111.63) rotate(-90)" text-anchor="end" class="bl">Reagan</text>
<text transform="translate(441.92,103.18) rotate(-90)" text-anchor="end" class="bl">GHW Bush</text>
<text transform="translate(446.97,74.01) rotate(-90)" text-anchor="end" class="bl">GHW Bush</text>
<text transform="translate(452.02,55.20) rotate(-90)" text-anchor="end" class="bl">GHW Bush</text>
<text transform="translate(457.07,77.46) rotate(-90)" text-anchor="end" class="bl">GHW Bush</text>
<text transform="translate(462.12,74.77) rotate(-90)" text-anchor="end" class="bl">Clinton</text>
<text transform="translate(467.17,95.12) rotate(-90)" text-anchor="end" class="bl">Clinton</text>
<text transform="translate(472.22,128.14) rotate(-90)" text-anchor="end" class="bl">Clinton</text>
<text transform="translate(477.27,159.62) rotate(-90)" text-anchor="end" class="bl">Clinton</text>
<text transform="translate(482.32,179.20) rotate(-90)" text-anchor="end" class="bl">Clinton</text>
<text transform="translate(487.37,204.53) rotate(-90)" text-anchor="end" class="bl">Clinton</text>
<text transform="translate(492.42,220.66) rotate(-90)" text-anchor="end" class="bl">Clinton</text>
<text transform="translate(497.47,224.88) rotate(-90)" text-anchor="end" class="bl">Clinton</text>
<text transform="translate(502.52,219.12) rotate(-90)" text-anchor="end" class="bl">GW Bush</text>
<text transform="translate(507.57,218.35) rotate(-90)" text-anchor="end" class="bl">GW Bush</text>
<text transform="translate(512.62,219.12) rotate(-90)" text-anchor="end" class="bl">GW Bush</text>
<text transform="translate(517.68,226.03) rotate(-90)" text-anchor="end" class="bl">GW Bush</text>
<text transform="translate(522.73,218.35) rotate(-90)" text-anchor="end" class="bl">GW Bush</text>
<text transform="translate(527.77,214.90) rotate(-90)" text-anchor="end" class="bl">GW Bush</text>
<text transform="translate(532.83,219.89) rotate(-90)" text-anchor="end" class="bl">GW Bush</text>
<text transform="translate(537.88,228.33) rotate(-90)" text-anchor="end" class="bl">GW Bush</text>
<text transform="translate(542.93,243.69) rotate(-90)" text-anchor="end" class="bl">Obama</text>
<text transform="translate(547.98,252.14) rotate(-90)" text-anchor="end" class="bl">Obama</text>
<text transform="translate(553.03,253.29) rotate(-90)" text-anchor="end" class="bl">Obama</text>
<text transform="translate(558.08,249.83) rotate(-90)" text-anchor="end" class="bl">Obama</text>
<text transform="translate(563.12,257.89) rotate(-90)" text-anchor="end" class="bl">Obama</text>
<text transform="translate(568.18,262.89) rotate(-90)" text-anchor="end" class="bl">Obama</text>
<text transform="translate(573.23,241.00) rotate(-90)" text-anchor="end" class="bl">Obama</text>
<text transform="translate(578.28,223.73) rotate(-90)" text-anchor="end" class="bl">Obama</text>
<text transform="translate(583.33,223.73) rotate(-90)" text-anchor="end" class="bl">Trump</text>
<text transform="translate(588.38,232.94) rotate(-90)" text-anchor="end" class="bl">Trump</text>
<text transform="translate(593.43,229.87) rotate(-90)" text-anchor="end" class="bl">Trump</text>
<text transform="translate(598.48,167.29) rotate(-90)" text-anchor="end" class="bl">Trump</text>
<text transform="translate(603.53,152.32) rotate(-90)" text-anchor="end" class="bl">Biden</text>
<text transform="translate(608.58,167.29) rotate(-90)" text-anchor="end" class="bl">Biden</text>
<text transform="translate(613.62,189.94) rotate(-90)" text-anchor="end" class="bl">Biden</text>
<rect x="33.50" y="179.00" width="581.50" height="3" fill="#e2cc68"/>
<rect x="84.20" y="179.00" width="5.35" height="3" fill="#a3a25c"/>
<rect x="94.30" y="179.00" width="5.35" height="3" fill="#ea6c42"/>
<rect x="99.35" y="179.00" width="5.35" height="3" fill="#ea6c42"/>
<rect x="104.40" y="179.00" width="5.35" height="3" fill="#ea6c42"/>
<rect x="109.45" y="179.00" width="5.35" height="3" fill="#ea6c42"/>
<rect x="114.50" y="179.00" width="5.35" height="3" fill="#ea6c42"/>
<rect x="119.55" y="179.00" width="5.35" height="3" fill="#ea6c42"/>
<rect x="124.60" y="179.00" width="5.35" height="3" fill="#ea6c42"/>
<rect x="129.65" y="179.00" width="5.35" height="3" fill="#ea6c42"/>
<rect x="134.70" y="179.00" width="5.35" height="3" fill="#ea6c42"/>
<rect x="139.75" y="179.00" width="5.35" height="3" fill="#ea6c42"/>
<rect x="144.80" y="179.00" width="5.35" height="3" fill="#ea6c42"/>
<rect x="149.85" y="179.00" width="5.35" height="3" fill="#ea6c42"/>
<rect x="154.90" y="179.00" width="5.35" height="3" fill="#a3a25c"/>
<rect x="159.95" y="179.00" width="5.35" height="3" fill="#a3a25c"/>
<rect x="165.00" y="179.00" width="5.35" height="3" fill="#a3a25c"/>
<rect x="170.05" y="179.00" width="5.35" height="3" fill="#a3a25c"/>
<rect x="175.10" y="179.00" width="5.35" height="3" fill="#a3a25c"/>
<rect x="331.65" y="179.00" width="5.35" height="3" fill="#a3a25c"/>
<rect x="336.70" y="179.00" width="5.35" height="3" fill="#ea6c42"/>
<rect x="341.75" y="179.00" width="5.35" height="3" fill="#ea6c42"/>
<rect x="346.80" y="179.00" width="5.35" height="3" fill="#ea6c42"/>
<rect x="351.85" y="179.00" width="5.35" height="3" fill="#ea6c42"/>
<rect x="356.90" y="179.00" width="5.35" height="3" fill="#ea6c42"/>
<rect x="361.95" y="179.00" width="5.35" height="3" fill="#ea6c42"/>
<rect x="367.00" y="179.00" width="5.35" height="3" fill="#ea6c42"/>
<rect x="372.05" y="179.00" width="5.35" height="3" fill="#ea6c42"/>
<rect x="377.10" y="179.00" width="5.35" height="3" fill="#a3a25c"/>
<rect x="382.15" y="179.00" width="5.35" height="3" fill="#a3a25c"/>
<rect x="387.20" y="179.00" width="5.35" height="3" fill="#a3a25c"/>
<rect x="392.25" y="179.00" width="5.35" height="3" fill="#a3a25c"/>
<rect x="397.30" y="179.00" width="5.35" height="3" fill="#ea6c42"/>
<rect x="402.35" y="179.00" width="5.35" height="3" fill="#ea6c42"/>
<rect x="407.40" y="179.00" width="5.35" height="3" fill="#ea6c42"/>
<rect x="412.45" y="179.00" width="5.35" height="3" fill="#ea6c42"/>
<rect x="417.50" y="179.00" width="5.35" height="3" fill="#ea6c42"/>
<rect x="422.55" y="179.00" width="5.35" height="3" fill="#ea6c42"/>
<rect x="427.60" y="179.00" width="5.35" height="3" fill="#ea6c42"/>
<rect x="432.65" y="179.00" width="5.35" height="3" fill="#ea6c42"/>
<rect x="437.70" y="179.00" width="5.35" height="3" fill="#ea6c42"/>
<rect x="442.75" y="179.00" width="5.35" height="3" fill="#ea6c42"/>
<rect x="447.80" y="179.00" width="5.35" height="3" fill="#ea6c42"/>
<rect x="452.85" y="179.00" width="5.35" height="3" fill="#ea6c42"/>
<rect x="457.90" y="179.00" width="5.35" height="3" fill="#a3a25c"/>
<rect x="462.95" y="179.00" width="5.35" height="3" fill="#a3a25c"/>
<rect x="468.00" y="179.00" width="5.35" height="3" fill="#a3a25c"/>
<rect x="473.05" y="179.00" width="5.35" height="3" fill="#a3a25c"/>
<rect x="478.10" y="179.00" width="5.35" height="3" fill="#a3a25c"/>
<rect x="594.25" y="179.00" width="5.35" height="3" fill="#ea6c42"/>
<rect x="599.30" y="179.00" width="5.35" height="3" fill="#a3a25c"/>
<rect x="604.35" y="179.00" width="5.35" height="3" fill="#a3a25c"/>
<rect x="511.20" y="144.00" width="57.3" height="33.6" fill="#f6c657"/>
<text x="539.80" y="158.50" text-anchor="middle" class="ab">115 Year</text>
<text x="539.80" y="172.50" text-anchor="middle" class="ab">Average</text>
<text transform="translate(38.43,454.00) rotate(-90)" text-anchor="end" class="xl">1909</text>
<text transform="translate(53.58,454.00) rotate(-90)" text-anchor="end" class="xl">1912</text>
<text transform="translate(68.73,454.00) rotate(-90)" text-anchor="end" class="xl">1915</text>
<text transform="translate(83.88,454.00) rotate(-90)" text-anchor="end" class="xl">1918</text>
<text transform="translate(99.03,454.00) rotate(-90)" text-anchor="end" class="xl">1921</text>
<text transform="translate(114.18,454.00) rotate(-90)" text-anchor="end" class="xl">1924</text>
<text transform="translate(129.32,454.00) rotate(-90)" text-anchor="end" class="xl">1927</text>
<text transform="translate(144.47,454.00) rotate(-90)" text-anchor="end" class="xl">1930</text>
<text transform="translate(159.62,454.00) rotate(-90)" text-anchor="end" class="xl">1933</text>
<text transform="translate(174.78,454.00) rotate(-90)" text-anchor="end" class="xl">1936</text>
<text transform="translate(189.92,454.00) rotate(-90)" text-anchor="end" class="xl">1939</text>
<text transform="translate(205.08,454.00) rotate(-90)" text-anchor="end" class="xl">1942</text>
<text transform="translate(220.22,454.00) rotate(-90)" text-anchor="end" class="xl">1945</text>
<text transform="translate(235.37,454.00) rotate(-90)" text-anchor="end" class="xl">1948</text>
<text transform="translate(250.52,454.00) rotate(-90)" text-anchor="end" class="xl">1951</text>
<text transform="translate(265.67,454.00) rotate(-90)" text-anchor="end" class="xl">1954</text>
<text transform="translate(280.82,454.00) rotate(-90)" text-anchor="end" class="xl">1957</text>
<text transform="translate(295.97,454.00) rotate(-90)" text-anchor="end" class="xl">1960</text>
<text transform="translate(311.12,454.00) rotate(-90)" text-anchor="end" class="xl">1963</text>
<text transform="translate(326.27,454.00) rotate(-90)" text-anchor="end" class="xl">1966</text>
<text transform="translate(341.42,454.00) rotate(-90)" text-anchor="end" class="xl">1969</text>
<text transform="translate(356.57,454.00) rotate(-90)" text-anchor="end" class="xl">1972</text>
<text transform="translate(371.72,454.00) rotate(-90)" text-anchor="end" class="xl">1975</text>
<text transform="translate(386.87,454.00) rotate(-90)" text-anchor="end" class="xl">1978</text>
<text transform="translate(402.02,454.00) rotate(-90)" text-anchor="end" class="xl">1981</text>
<text transform="translate(417.17,454.00) rotate(-90)" text-anchor="end" class="xl">1984</text>
<text transform="translate(432.32,454.00) rotate(-90)" text-anchor="end" class="xl">1987</text>
<text transform="translate(447.47,454.00) rotate(-90)" text-anchor="end" class="xl">1990</text>
<text transform="translate(462.62,454.00) rotate(-90)" text-anchor="end" class="xl">1993</text>
<text transform="translate(477.77,454.00) rotate(-90)" text-anchor="end" class="xl">1996</text>
<text transform="translate(492.92,454.00) rotate(-90)" text-anchor="end" class="xl">1999</text>
<text transform="translate(508.07,454.00) rotate(-90)" text-anchor="end" class="xl">2002</text>
<text transform="translate(523.23,454.00) rotate(-90)" text-anchor="end" class="xl">2005</text>
<text transform="translate(538.38,454.00) rotate(-90)" text-anchor="end" class="xl">2008</text>
<text transform="translate(553.53,454.00) rotate(-90)" text-anchor="end" class="xl">2011</text>
<text transform="translate(568.68,454.00) rotate(-90)" text-anchor="end" class="xl">2014</text>
<text transform="translate(583.83,454.00) rotate(-90)" text-anchor="end" class="xl">2017</text>
<text transform="translate(598.98,454.00) rotate(-90)" text-anchor="end" class="xl">2020</text>
<text transform="translate(614.12,454.00) rotate(-90)" text-anchor="end" class="xl">2023</text>
<text x="49.00" y="37.50" class="t1" style="letter-spacing:0px">Homicide Victimization Rate</text>
<text x="49.80" y="64.00" class="t2" style="letter-spacing:0.35px">1909-2023</text>
<text x="50.10" y="80.50" class="t3"><tspan style="font-size:7.6px;fill:#888">@</tspan><tspan dx="-0.2" style="letter-spacing:0.22px">fentasyl</tspan></text>
</svg></div>
<div id="foot">Last edited 8:42 AM · Jun 19, 2024 · <b>22.6K</b> Views</div>
</body></html>
